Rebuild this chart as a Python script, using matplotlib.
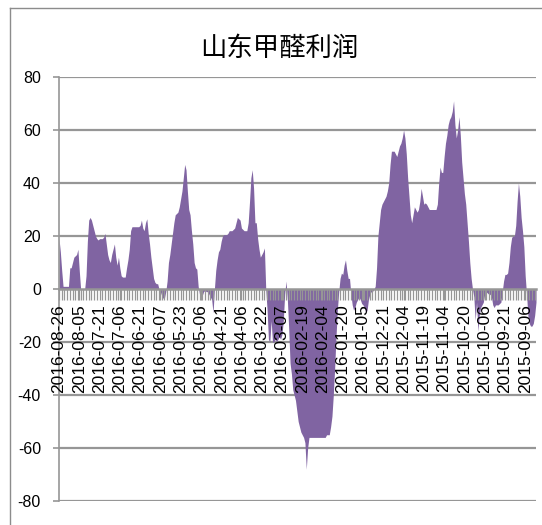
import matplotlib.pyplot as plt
from matplotlib.lines import Line2D
import numpy as np

plt.rcParams['font.family'] = ['Liberation Sans', 'Noto Sans CJK SC', 'DejaVu Sans']
plt.rcParams['axes.unicode_minus'] = False

title = "山东甲醛利润"

# category labels, one every 15 points (sheet is sorted newest first)
date_labels = ["2016-08-26", "2016-08-05", "2016-07-21", "2016-07-06",
               "2016-06-21", "2016-06-07", "2016-05-23", "2016-05-06",
               "2016-04-21", "2016-04-06", "2016-03-22", "2016-03-07",
               "2016-02-19", "2016-02-04", "2016-01-20", "2016-01-05",
               "2015-12-21", "2015-12-04", "2015-11-19", "2015-11-04",
               "2015-10-20", "2015-10-06", "2015-09-21", "2015-09-06"]
label_step = 15

# profit (yuan/t), newest -> oldest
profit = [
    19, 14, 7, 1, 1, 1, 1, 1, 8, 8, 10, 12, 12.5, 13, 15,
    7, 0, 0, 0, 0, 5, 18, 26, 27, 26, 24, 22, 20, 19, 18.5,
    19, 19, 19, 19.5, 21, 17, 13, 11, 10, 13, 15, 17, 12, 9, 12,
    8, 5, 4.5, 4.5, 4.5, 8, 11, 15, 22, 23.5, 23.5, 23.5, 23.5, 23.5, 23.5,
    24, 26, 23, 22, 25, 26.5, 21, 17, 12, 8, 4, 2.5, 2, 2, 0,
    -1, -2.5, -3.5, -3.5, -1, 3, 10, 13, 17, 21, 25, 28, 28.5, 29, 31,
    34, 37, 42, 47, 45, 37, 30, 28, 22, 17, 10, 8, 7.5, 1, -2,
    -2, -2.5, -1, -0.5, -1, -1, -2, -3, -4, -9, 0, 7, 11, 14, 15,
    18, 20, 20.5, 20.5, 20.5, 21, 22, 22, 22, 22.5, 23, 25, 27, 26.5, 26,
    23, 22.5, 22, 22, 22, 25, 33, 42, 45, 38, 25, 25, 19, 15, 12,
    13, 14, 15.5, 0, -8, -19, -20, -12, -20, -20, -19, -20, -19, -18, -19,
    -17, -12, -2, 3, -4, -15, -28, -32, -38, -40, -42, -46, -50, -52, -54,
    -55, -56, -58, -68, -60, -56, -56, -56, -56, -56, -56, -56, -56, -56, -56,
    -56, -56, -56, -55, -55, -55, -52, -48, -40, -30, -18, -8, -1, 4, 6,
    5.5, 9, 11, 7, 4, 4, -2, -6, -8, -7, -5, -4, -3, -4, -5.5,
    -6, -7, -9, -8, -4, -2, -1, -1, 0, 1, 8, 20, 25, 30, 32,
    33, 34, 35, 37, 40, 47, 52, 52, 52, 51, 50, 52, 54, 55, 57,
    60, 57, 51, 42, 35, 28, 25, 28, 31, 30, 29, 30, 33, 38, 35,
    32, 32.5, 32, 31, 30, 30, 30, 30, 30, 30, 32, 40, 46, 44, 44,
    50, 55, 58, 62, 64, 65, 67, 71, 62, 57, 60, 65, 58, 48, 42,
    36, 32, 25, 18, 10, 4, 0, -3, -12, -5, -16, -10, -7, -6, -5,
    -2, -1, -1.5, -2, -2, -3, -6, -7, -6, -6, -6, -5.5, -5, -1, 3,
    5.5, 5.5, 6, 10, 16, 19.5, 20, 20, 24, 33, 40, 35, 27, 22, 16,
    5, -2, -10, -13, -14, -14, -13, -10, -5,
]
y_ticks = list(range(-80, 81, 20))

fill_color = "#8064A2"
grid_color = "#969696"

fig = plt.figure(figsize=(5.42, 5.25), dpi=100)
ax = fig.add_axes([59 / 542, 24 / 525, 477 / 542, 424 / 525])

x = np.arange(len(profit))
ax.fill_between(x, profit, 0, color=fill_color, lw=0, zorder=2)

# gridlines behind the area, axis (zero line + labels) in front of it
for v in y_ticks:
    if v != 0:
        ax.axhline(v, color=grid_color, lw=1.6, zorder=1)

ax.set_xlim(0, len(profit) - 1)
ax.set_ylim(-80, 80)
ax.set_yticks(y_ticks)
ax.set_yticklabels([str(v) for v in y_ticks], fontsize=11.5)

# category axis sits on the zero line
for s in ["top", "right"]:
    ax.spines[s].set_visible(False)
ax.spines["left"].set_color(grid_color)
ax.spines["left"].set_linewidth(1.2)
ax.spines["bottom"].set_position(("data", 0))
ax.spines["bottom"].set_color(grid_color)
ax.spines["bottom"].set_linewidth(1.8)
ax.spines["bottom"].set_zorder(3)

ax.set_xticks(range(0, len(profit), label_step))
ax.set_xticklabels(date_labels, rotation=90, fontsize=12.5, va="top")
ax.set_xticks(range(0, len(profit), 2), minor=True)
ax.tick_params(axis="x", which="both", direction="out", length=8,
               color=grid_color, width=0.9, pad=3)
ax.tick_params(axis="y", direction="out", length=4, color=grid_color,
               width=1.2, pad=9)
ax.xaxis.set_zorder(3)

fig.text(0.515, 1 - 48 / 525, title, ha="center", va="center", fontsize=19,
         family=["Noto Sans CJK SC", "DejaVu Sans"])

# outer chart border
fig.add_artist(Line2D([10 / 542, 10 / 542], [0, 1 - 8 / 525],
                      transform=fig.transFigure, color="#8c8c8c", lw=1))
fig.add_artist(Line2D([10 / 542, 1], [1 - 8 / 525, 1 - 8 / 525],
                      transform=fig.transFigure, color="#8c8c8c", lw=1))

fig.savefig("out.png", dpi=100)
